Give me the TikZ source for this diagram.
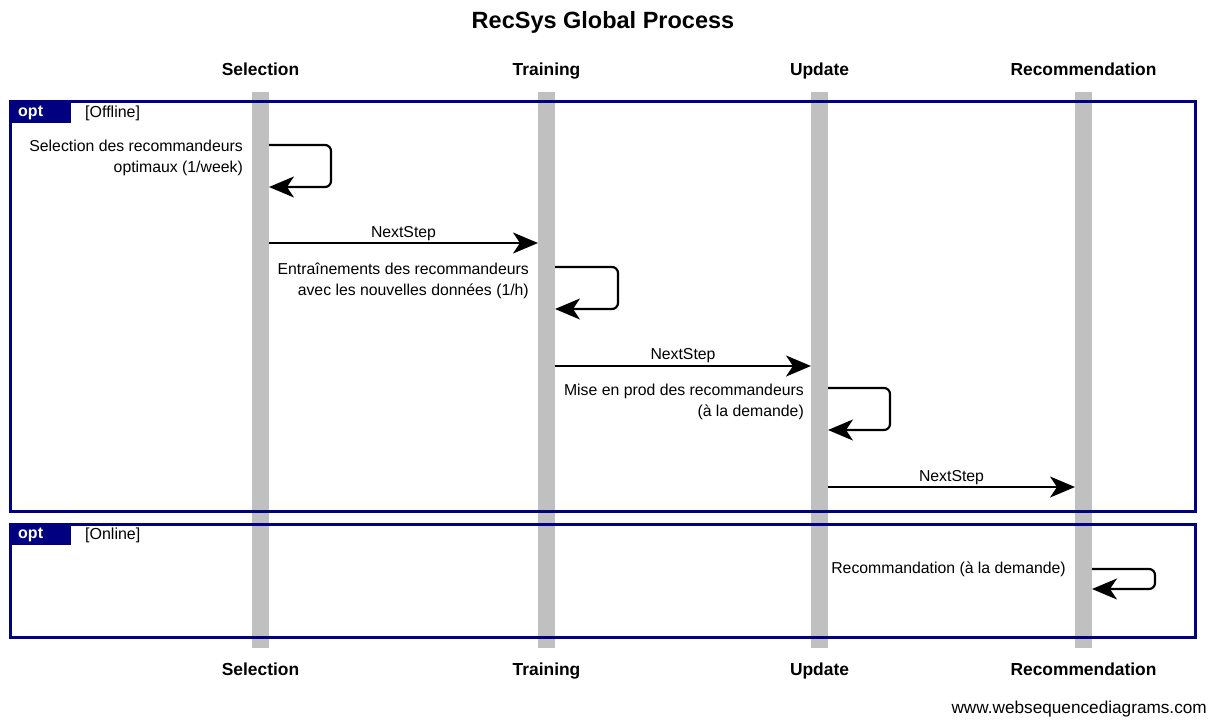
\documentclass[tikz,border=0pt]{standalone}
\usepackage{fontspec}
\setmainfont{Liberation Sans}
\usetikzlibrary{arrows.meta}
\definecolor{framenavy}{RGB}{0,0,128}
\definecolor{lifegray}{RGB}{192,192,192}
\begin{document}
\begin{tikzpicture}[x=1pt,y=-1pt,
  title/.style={font=\bfseries\fontsize{23.5}{26}\selectfont, inner sep=0pt, anchor=base},
  actor/.style={font=\bfseries\fontsize{17.4}{20}\selectfont, inner sep=0pt, anchor=base},
  lifeline/.style={fill=lifegray, draw=none},
  frameline/.style={draw=framenavy, line width=3pt},
  tab/.style={fill=framenavy, draw=none},
  tabtext/.style={font=\bfseries\fontsize{16}{18}\selectfont, text=white, inner sep=0pt, anchor=west},
  guard/.style={font=\fontsize{16}{18}\selectfont, inner sep=0pt, anchor=west},
  msg/.style={line width=2.2pt, -{Stealth[length=25pt,width=21pt,inset=7pt]}},
  selfmsg/.style={msg, rounded corners=6pt},
  msgtext/.style={font=\fontsize{15.8}{21}\selectfont, inner sep=0pt},
  footer/.style={font=\fontsize{17.2}{19}\selectfont, inner sep=0pt}]
\useasboundingbox (0,0) rectangle (1218,720);

% title
\node[title] (title) at (603,28) {RecSys Global Process};

% lifelines
\fill[lifeline] (252,92) rectangle (269,648);
\fill[lifeline] (538,92) rectangle (555,648);
\fill[lifeline] (811,92) rectangle (828,648);
\fill[lifeline] (1075,92) rectangle (1092,648);

% participant names, top and bottom
\node[actor] (selT) at (260.5,75) {Selection};
\node[actor] (traT) at (546.5,75) {Training};
\node[actor] (updT) at (819.5,75) {Update};
\node[actor] (recT) at (1083.5,75) {Recommendation};
\node[actor] (selB) at (260.5,675) {Selection};
\node[actor] (traB) at (546.5,675) {Training};
\node[actor] (updB) at (819.5,675) {Update};
\node[actor] (recB) at (1083.5,675) {Recommendation};

% opt frame: offline
\draw[frameline] (10,101) rectangle (1195,511);
\fill[tab] (10,101) rectangle (71,123);
\node[tabtext] (opt1) at (18,113) {opt};
\node[guard] (g1) at (85,113) {[Offline]};

% opt frame: online
\draw[frameline] (10,524) rectangle (1195,637);
\fill[tab] (10,524) rectangle (71,545);
\node[tabtext] (opt2) at (18,535) {opt};
\node[guard] (g2) at (85,535) {[Online]};

% message end points
\coordinate (s1a) at (269,145);
\coordinate (s1b) at (269,187);
\coordinate (m1a) at (269,243);
\coordinate (m1b) at (538,243);
\coordinate (s2a) at (555,267);
\coordinate (s2b) at (555,309);
\coordinate (m2a) at (555,366);
\coordinate (m2b) at (811,366);
\coordinate (s3a) at (828,388);
\coordinate (s3b) at (828,430);
\coordinate (m3a) at (828,487);
\coordinate (m3b) at (1075,487);
\coordinate (s4a) at (1092,569);
\coordinate (s4b) at (1092,589);

% Selection: self message
\draw[selfmsg] (s1a) -- (331,145) -- (331,187) -- (s1b);
\node[msgtext, align=right, anchor=east] (t1) at (243,158)
  {Selection des recommandeurs\\optimaux (1/week)};

% Selection -> Training
\draw[msg] (m1a) -- (m1b);
\node[msgtext] (n1) at (403.5,234) {NextStep};

% Training: self message
\draw[selfmsg] (s2a) -- (618,267) -- (618,309) -- (s2b);
\node[msgtext, align=right, anchor=east] (t2) at (529,281)
  {Entraînements des recommandeurs\\avec les nouvelles données (1/h)};

% Training -> Update
\draw[msg] (m2a) -- (m2b);
\node[msgtext] (n2) at (683,356) {NextStep};

% Update: self message
\draw[selfmsg] (s3a) -- (890,388) -- (890,430) -- (s3b);
\node[msgtext, align=right, anchor=east] (t3) at (804,402)
  {Mise en prod des recommandeurs\\(à la demande)};

% Update -> Recommendation
\draw[msg] (m3a) -- (m3b);
\node[msgtext] (n3) at (951.5,478) {NextStep};

% Recommendation: self message
\draw[selfmsg] (s4a) -- (1155,569) -- (1155,589) -- (s4b);
\node[msgtext, anchor=east] (t4) at (1066,569) {Recommandation (à la demande)};

% footer
\node[footer, anchor=east] (web) at (1207,709) {www.websequencediagrams.com};
\end{tikzpicture}
\end{document}
